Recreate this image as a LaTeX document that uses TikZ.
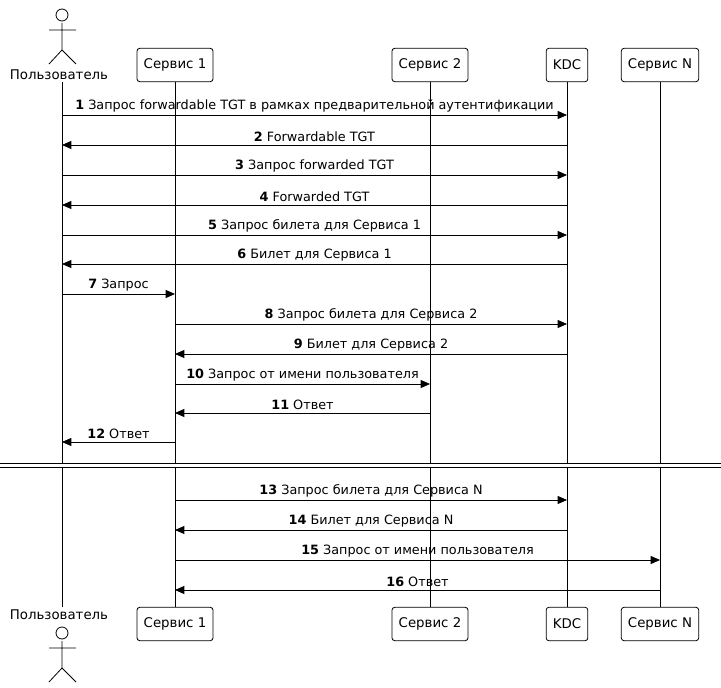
\documentclass[tikz,border=0pt]{standalone}
\usepackage{fontspec}
\setmainfont{DejaVu Sans}
\usetikzlibrary{arrows.meta}
\begin{document}
\begin{tikzpicture}[x=0.75pt,y=-0.75pt,
  box/.style={draw,rounded corners=2pt,minimum height=25pt,inner xsep=5pt,font=\fontsize{10}{12}\selectfont,line width=0.6pt},
  life/.style={line width=0.5pt},
  msg/.style={-{Triangle[length=7pt,width=6pt,fill=black]},line width=0.6pt},
  lbl/.style={font=\fontsize{9.6}{11}\selectfont,inner sep=1pt,anchor=south}]
\useasboundingbox (0,0) rectangle (721,688);
% lifelines
\foreach \n/\x in {u/62,a/175,b/430,k/567,n/660}{
  \coordinate (\n t) at (\x,82); \coordinate (\n b) at (\x,607);
  \draw[life] (\n t) -- (\n b);}
% boxes
\foreach \p/\y in {t/65,b/624}{
  \node[box,fill=white] (s1\p) at (175,\y) {Сервис 1};
  \node[box,fill=white] (s2\p) at (430,\y) {Сервис 2};
  \node[box,fill=white] (kd\p) at (567,\y) {KDC};
  \node[box,fill=white] (sn\p) at (660,\y) {Сервис N};}
% actors
\node[font=\fontsize{10}{12}\selectfont] (ul1) at (59,75) {Пользователь};
\node[font=\fontsize{10}{12}\selectfont] (ul2) at (59,615) {Пользователь};
\foreach \dy in {0,618}{
 \begin{scope}[yshift=-\dy*0.75pt]
  \draw[line width=0.6pt] (62,15) circle[radius=8*0.75];
  \draw[line width=0.6pt] (62,23) -- (62,50) (49,30) -- (76,30) (49,64) -- (62,50) -- (76,64);
 \end{scope}}
% messages
\newcommand\mymsg[5]{\coordinate (f#1) at (#2,#4); \coordinate (g#1) at (#3,#4);
  \draw[msg] (f#1) -- (g#1) node[lbl,midway,yshift=1pt] {\textbf{#1} #5};}
\mymsg{1}{62}{567}{115}{Запрос forwardable TGT в рамках предварительной аутентификации}
\mymsg{2}{567}{62}{145}{Forwardable TGT}
\mymsg{3}{62}{567}{175}{Запрос forwarded TGT}
\mymsg{4}{567}{62}{205}{Forwarded TGT}
\mymsg{5}{62}{567}{235}{Запрос билета для Сервиса 1}
\mymsg{6}{567}{62}{264}{Билет для Сервиса 1}
\mymsg{7}{62}{175}{294}{Запрос}
\mymsg{8}{175}{567}{324}{Запрос билета для Сервиса 2}
\mymsg{9}{567}{175}{354}{Билет для Сервиса 2}
\mymsg{10}{175}{430}{384}{Запрос от имени пользователя}
\mymsg{11}{430}{175}{413}{Ответ}
\mymsg{12}{175}{62}{442}{Ответ}
\mymsg{13}{175}{567}{500}{Запрос билета для Сервиса N}
\mymsg{14}{567}{175}{530}{Билет для Сервиса N}
\mymsg{15}{175}{660}{560}{Запрос от имени пользователя}
\mymsg{16}{660}{175}{590}{Ответ}
% divider
\fill[white] (0,463) rectangle (721,467);
\draw[line width=0.6pt] (0,463) -- (721,463) (0,467) -- (721,467);
\end{tikzpicture}
\end{document}
